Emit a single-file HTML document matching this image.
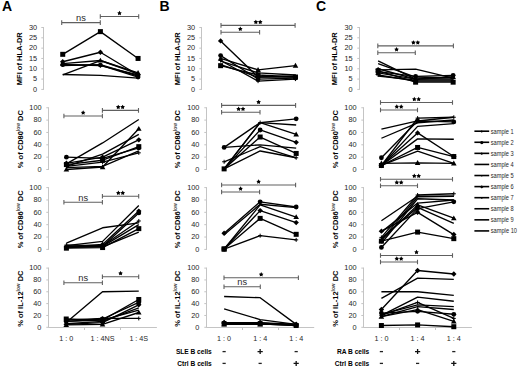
<!DOCTYPE html>
<html><head><meta charset="utf-8"><title>figure</title>
<style>
html,body{margin:0;padding:0;background:#fff;}
body{width:520px;height:369px;overflow:hidden;}
svg{display:block;font-family:"Liberation Sans", sans-serif;}
</style></head>
<body>
<svg width="520" height="369" viewBox="0 0 520 369">
<rect width="520" height="369" fill="#fff"/>
<path d="M43.50,27.00V89.90" stroke="#c4c4c4" stroke-width="1" fill="none"/>
<path d="M41.30,89.40H43.50" stroke="#c4c4c4" stroke-width="1"/>
<text x="37.20" y="91.60" font-size="7.35" text-anchor="end" fill="#262626">0</text>
<path d="M41.30,79.08H43.50" stroke="#c4c4c4" stroke-width="1"/>
<text x="37.20" y="81.28" font-size="7.35" text-anchor="end" fill="#262626">5</text>
<path d="M41.30,68.77H43.50" stroke="#c4c4c4" stroke-width="1"/>
<text x="37.20" y="70.97" font-size="7.35" text-anchor="end" fill="#262626">10</text>
<path d="M41.30,58.45H43.50" stroke="#c4c4c4" stroke-width="1"/>
<text x="37.20" y="60.65" font-size="7.35" text-anchor="end" fill="#262626">15</text>
<path d="M41.30,48.13H43.50" stroke="#c4c4c4" stroke-width="1"/>
<text x="37.20" y="50.33" font-size="7.35" text-anchor="end" fill="#262626">20</text>
<path d="M41.30,37.82H43.50" stroke="#c4c4c4" stroke-width="1"/>
<text x="37.20" y="40.02" font-size="7.35" text-anchor="end" fill="#262626">25</text>
<path d="M41.30,27.50H43.50" stroke="#c4c4c4" stroke-width="1"/>
<text x="37.20" y="29.70" font-size="7.35" text-anchor="end" fill="#262626">30</text>
<path d="M62.73,54.32 L100.40,31.63 L138.07,58.45" stroke="#000" stroke-width="1.35" fill="none" stroke-linejoin="round"/>
<rect x="60.23" y="51.82" width="5.00" height="5.00" fill="#000"/>
<rect x="97.90" y="29.13" width="5.00" height="5.00" fill="#000"/>
<rect x="135.57" y="55.95" width="5.00" height="5.00" fill="#000"/>
<path d="M62.73,61.75 L100.40,52.26 L138.07,74.96" stroke="#000" stroke-width="1.35" fill="none" stroke-linejoin="round"/>
<polygon points="62.73,59.05 65.43,61.75 62.73,64.45 60.03,61.75" fill="#000"/>
<polygon points="100.40,49.56 103.10,52.26 100.40,54.96 97.70,52.26" fill="#000"/>
<polygon points="138.07,72.26 140.77,74.96 138.07,77.66 135.37,74.96" fill="#000"/>
<path d="M62.73,63.61 L100.40,60.51 L138.07,72.89" stroke="#000" stroke-width="1.35" fill="none" stroke-linejoin="round"/>
<polygon points="62.73,60.81 65.53,65.71 59.93,65.71" fill="#000"/>
<polygon points="100.40,57.71 103.20,62.61 97.60,62.61" fill="#000"/>
<polygon points="138.07,70.09 140.87,74.99 135.27,74.99" fill="#000"/>
<path d="M62.73,64.64 L100.40,65.05 L138.07,77.02" stroke="#000" stroke-width="1.35" fill="none" stroke-linejoin="round"/>
<circle cx="62.73" cy="64.64" r="2.40" fill="#000"/>
<circle cx="100.40" cy="65.05" r="2.40" fill="#000"/>
<circle cx="138.07" cy="77.02" r="2.40" fill="#000"/>
<path d="M62.73,64.64 L100.40,65.67 L138.07,74.96" stroke="#000" stroke-width="1.35" fill="none" stroke-linejoin="round"/>
<path d="M60.73,64.64H64.73M62.73,62.64V66.64" stroke="#000" stroke-width="1"/>
<path d="M98.40,65.67H102.40M100.40,63.67V67.67" stroke="#000" stroke-width="1"/>
<path d="M136.07,74.96H140.07M138.07,72.96V76.96" stroke="#000" stroke-width="1"/>
<path d="M62.73,65.67 L100.40,64.64 L138.07,75.99" stroke="#000" stroke-width="1.35" fill="none" stroke-linejoin="round"/>



<path d="M62.73,74.96 L100.40,60.51 L138.07,73.93" stroke="#000" stroke-width="1.35" fill="none" stroke-linejoin="round"/>



<path d="M62.73,74.54 L100.40,75.37 L138.07,78.05" stroke="#000" stroke-width="1.35" fill="none" stroke-linejoin="round"/>



<path d="M61.70,22.60H100.30M61.70,20.30V24.90M100.30,20.30V24.90" stroke="#606060" stroke-width="1.1" fill="none"/><text x="81.00" y="21.20" font-size="9.3" text-anchor="middle" fill="#2a2a2a">ns</text>
<path d="M100.30,16.50H138.70M100.30,14.20V18.80M138.70,14.20V18.80" stroke="#606060" stroke-width="1.1" fill="none"/><polygon points="119.50,10.80 120.28,12.13 121.78,12.46 120.76,13.61 120.91,15.14 119.50,14.52 118.09,15.14 118.24,13.61 117.22,12.46 118.72,12.13" fill="#000"/>
<text transform="translate(22.00,58.70) rotate(-90)" font-size="7.5" font-weight="bold" text-anchor="middle" fill="#000">MFI of HLA-DR</text>
<path d="M48.50,107.25V170.00" stroke="#c4c4c4" stroke-width="1" fill="none"/>
<path d="M46.30,169.50H48.50" stroke="#c4c4c4" stroke-width="1"/>
<text x="41.60" y="171.70" font-size="7.35" text-anchor="end" fill="#262626">0</text>
<path d="M46.30,157.15H48.50" stroke="#c4c4c4" stroke-width="1"/>
<text x="41.60" y="159.35" font-size="7.35" text-anchor="end" fill="#262626">20</text>
<path d="M46.30,144.80H48.50" stroke="#c4c4c4" stroke-width="1"/>
<text x="41.60" y="147.00" font-size="7.35" text-anchor="end" fill="#262626">40</text>
<path d="M46.30,132.45H48.50" stroke="#c4c4c4" stroke-width="1"/>
<text x="41.60" y="134.65" font-size="7.35" text-anchor="end" fill="#262626">60</text>
<path d="M46.30,120.10H48.50" stroke="#c4c4c4" stroke-width="1"/>
<text x="41.60" y="122.30" font-size="7.35" text-anchor="end" fill="#262626">80</text>
<path d="M46.30,107.75H48.50" stroke="#c4c4c4" stroke-width="1"/>
<text x="41.60" y="109.95" font-size="7.35" text-anchor="end" fill="#262626">100</text>
<path d="M66.40,164.56 L102.60,160.24 L138.80,146.65" stroke="#000" stroke-width="1.35" fill="none" stroke-linejoin="round"/>
<rect x="63.90" y="162.06" width="5.00" height="5.00" fill="#000"/>
<rect x="100.10" y="157.74" width="5.00" height="5.00" fill="#000"/>
<rect x="136.30" y="144.15" width="5.00" height="5.00" fill="#000"/>
<path d="M66.40,157.15 L102.60,158.38 L138.80,147.89" stroke="#000" stroke-width="1.35" fill="none" stroke-linejoin="round"/>
<circle cx="66.40" cy="157.15" r="2.40" fill="#000"/>
<circle cx="102.60" cy="158.38" r="2.40" fill="#000"/>
<circle cx="138.80" cy="147.89" r="2.40" fill="#000"/>
<path d="M66.40,169.50 L102.60,167.03 L138.80,128.75" stroke="#000" stroke-width="1.35" fill="none" stroke-linejoin="round"/>
<polygon points="66.40,166.70 69.20,171.60 63.60,171.60" fill="#000"/>
<polygon points="102.60,164.23 105.40,169.13 99.80,169.13" fill="#000"/>
<polygon points="138.80,125.95 141.60,130.84 136.00,130.84" fill="#000"/>
<path d="M66.40,163.32 L102.60,157.15 L138.80,139.86" stroke="#000" stroke-width="1.35" fill="none" stroke-linejoin="round"/>
<polygon points="66.40,160.62 69.10,163.32 66.40,166.02 63.70,163.32" fill="#000"/>
<polygon points="102.60,154.45 105.30,157.15 102.60,159.85 99.90,157.15" fill="#000"/>
<polygon points="138.80,137.16 141.50,139.86 138.80,142.56 136.10,139.86" fill="#000"/>
<path d="M66.40,166.41 L102.60,162.09 L138.80,152.83" stroke="#000" stroke-width="1.35" fill="none" stroke-linejoin="round"/>
<path d="M64.40,166.41H68.40M66.40,164.41V168.41" stroke="#000" stroke-width="1"/>
<path d="M100.60,162.09H104.60M102.60,160.09V164.09" stroke="#000" stroke-width="1"/>
<path d="M136.80,152.83H140.80M138.80,150.83V154.83" stroke="#000" stroke-width="1"/>
<path d="M66.40,163.94 L102.60,142.95 L138.80,119.48" stroke="#000" stroke-width="1.35" fill="none" stroke-linejoin="round"/>



<path d="M66.40,166.41 L102.60,154.06 L138.80,134.30" stroke="#000" stroke-width="1.35" fill="none" stroke-linejoin="round"/>



<path d="M66.40,167.65 L102.60,166.41 L138.80,150.97" stroke="#000" stroke-width="1.35" fill="none" stroke-linejoin="round"/>



<path d="M63.90,116.00H102.40M63.90,113.70V118.30M102.40,113.70V118.30" stroke="#606060" stroke-width="1.1" fill="none"/><polygon points="83.15,110.30 83.93,111.63 85.43,111.96 84.41,113.11 84.56,114.64 83.15,114.02 81.74,114.64 81.89,113.11 80.87,111.96 82.37,111.63" fill="#000"/>
<path d="M102.40,110.40H138.50M102.40,108.10V112.70M138.50,108.10V112.70" stroke="#606060" stroke-width="1.1" fill="none"/><polygon points="118.25,104.70 119.03,106.03 120.53,106.36 119.51,107.51 119.66,109.04 118.25,108.42 116.84,109.04 116.99,107.51 115.97,106.36 117.47,106.03" fill="#000"/><polygon points="122.65,104.70 123.43,106.03 124.93,106.36 123.91,107.51 124.06,109.04 122.65,108.42 121.24,109.04 121.39,107.51 120.37,106.36 121.87,106.03" fill="#000"/>
<text transform="translate(22.60,139.20) rotate(-90)" font-size="7.5" font-weight="bold" text-anchor="middle" fill="#000">% of CD80<tspan font-size="4.8" dy="-3" fill="#444">low</tspan><tspan dy="3"> DC</tspan></text>
<path d="M48.50,187.10V249.90" stroke="#c4c4c4" stroke-width="1" fill="none"/>
<path d="M46.30,249.40H48.50" stroke="#c4c4c4" stroke-width="1"/>
<text x="41.60" y="251.60" font-size="7.35" text-anchor="end" fill="#262626">0</text>
<path d="M46.30,237.04H48.50" stroke="#c4c4c4" stroke-width="1"/>
<text x="41.60" y="239.24" font-size="7.35" text-anchor="end" fill="#262626">20</text>
<path d="M46.30,224.68H48.50" stroke="#c4c4c4" stroke-width="1"/>
<text x="41.60" y="226.88" font-size="7.35" text-anchor="end" fill="#262626">40</text>
<path d="M46.30,212.32H48.50" stroke="#c4c4c4" stroke-width="1"/>
<text x="41.60" y="214.52" font-size="7.35" text-anchor="end" fill="#262626">60</text>
<path d="M46.30,199.96H48.50" stroke="#c4c4c4" stroke-width="1"/>
<text x="41.60" y="202.16" font-size="7.35" text-anchor="end" fill="#262626">80</text>
<path d="M46.30,187.60H48.50" stroke="#c4c4c4" stroke-width="1"/>
<text x="41.60" y="189.80" font-size="7.35" text-anchor="end" fill="#262626">100</text>
<path d="M66.40,243.22 L102.60,227.77 L138.80,222.83" stroke="#000" stroke-width="1.35" fill="none" stroke-linejoin="round"/>



<path d="M66.40,245.69 L102.60,241.37 L138.80,205.52" stroke="#000" stroke-width="1.35" fill="none" stroke-linejoin="round"/>



<path d="M66.40,246.93 L102.60,244.46 L138.80,211.08" stroke="#000" stroke-width="1.35" fill="none" stroke-linejoin="round"/>
<polygon points="66.40,244.23 69.10,246.93 66.40,249.63 63.70,246.93" fill="#000"/>
<polygon points="102.60,241.76 105.30,244.46 102.60,247.16 99.90,244.46" fill="#000"/>
<polygon points="138.80,208.38 141.50,211.08 138.80,213.78 136.10,211.08" fill="#000"/>
<path d="M66.40,247.55 L102.60,246.31 L138.80,212.94" stroke="#000" stroke-width="1.35" fill="none" stroke-linejoin="round"/>
<circle cx="66.40" cy="247.55" r="2.40" fill="#000"/>
<circle cx="102.60" cy="246.31" r="2.40" fill="#000"/>
<circle cx="138.80" cy="212.94" r="2.40" fill="#000"/>
<path d="M66.40,245.07 L102.60,245.69 L138.80,220.97" stroke="#000" stroke-width="1.35" fill="none" stroke-linejoin="round"/>
<path d="M64.40,245.07H68.40M66.40,243.07V247.07" stroke="#000" stroke-width="1"/>
<path d="M100.60,245.69H104.60M102.60,243.69V247.69" stroke="#000" stroke-width="1"/>
<path d="M136.80,220.97H140.80M138.80,218.97V222.97" stroke="#000" stroke-width="1"/>
<path d="M66.40,248.16 L102.60,247.55 L138.80,228.64" stroke="#000" stroke-width="1.35" fill="none" stroke-linejoin="round"/>
<rect x="63.90" y="245.66" width="5.00" height="5.00" fill="#000"/>
<rect x="100.10" y="245.05" width="5.00" height="5.00" fill="#000"/>
<rect x="136.30" y="226.14" width="5.00" height="5.00" fill="#000"/>
<path d="M66.40,246.31 L102.60,246.31 L138.80,224.68" stroke="#000" stroke-width="1.35" fill="none" stroke-linejoin="round"/>



<path d="M66.40,246.93 L102.60,246.93 L138.80,232.10" stroke="#000" stroke-width="1.35" fill="none" stroke-linejoin="round"/>



<path d="M63.90,202.30H102.40M63.90,200.00V204.60M102.40,200.00V204.60" stroke="#606060" stroke-width="1.1" fill="none"/><text x="83.15" y="200.90" font-size="9.3" text-anchor="middle" fill="#2a2a2a">ns</text>
<path d="M102.40,196.30H138.70M102.40,194.00V198.60M138.70,194.00V198.60" stroke="#606060" stroke-width="1.1" fill="none"/><polygon points="118.35,190.60 119.13,191.93 120.63,192.26 119.61,193.41 119.76,194.94 118.35,194.32 116.94,194.94 117.09,193.41 116.07,192.26 117.57,191.93" fill="#000"/><polygon points="122.75,190.60 123.53,191.93 125.03,192.26 124.01,193.41 124.16,194.94 122.75,194.32 121.34,194.94 121.49,193.41 120.47,192.26 121.97,191.93" fill="#000"/>
<text transform="translate(22.60,219.30) rotate(-90)" font-size="7.5" font-weight="bold" text-anchor="middle" fill="#000">% of CD86<tspan font-size="4.8" dy="-3" fill="#444">low</tspan><tspan dy="3"> DC</tspan></text>
<path d="M48.50,267.60V327.80" stroke="#c4c4c4" stroke-width="1" fill="none"/>
<path d="M46.30,327.30H48.50" stroke="#c4c4c4" stroke-width="1"/>
<text x="41.40" y="329.50" font-size="7.35" text-anchor="end" fill="#262626">0</text>
<path d="M46.30,315.46H48.50" stroke="#c4c4c4" stroke-width="1"/>
<text x="41.40" y="317.66" font-size="7.35" text-anchor="end" fill="#262626">20</text>
<path d="M46.30,303.62H48.50" stroke="#c4c4c4" stroke-width="1"/>
<text x="41.40" y="305.82" font-size="7.35" text-anchor="end" fill="#262626">40</text>
<path d="M46.30,291.78H48.50" stroke="#c4c4c4" stroke-width="1"/>
<text x="41.40" y="293.98" font-size="7.35" text-anchor="end" fill="#262626">60</text>
<path d="M46.30,279.94H48.50" stroke="#c4c4c4" stroke-width="1"/>
<text x="41.40" y="282.14" font-size="7.35" text-anchor="end" fill="#262626">80</text>
<path d="M46.30,268.10H48.50" stroke="#c4c4c4" stroke-width="1"/>
<text x="41.40" y="270.30" font-size="7.35" text-anchor="end" fill="#262626">100</text>
<path d="M48.50,327.50H156.90" stroke="#c4c4c4" stroke-width="1"/>
<path d="M84.50,327.50V330.00" stroke="#c4c4c4" stroke-width="1"/>
<path d="M120.50,327.50V330.00" stroke="#c4c4c4" stroke-width="1"/>
<path d="M66.23,322.56 L102.50,291.78 L138.77,291.19" stroke="#000" stroke-width="1.35" fill="none" stroke-linejoin="round"/>



<path d="M66.23,319.01 L102.50,320.20 L138.77,299.48" stroke="#000" stroke-width="1.35" fill="none" stroke-linejoin="round"/>
<rect x="63.73" y="316.51" width="5.00" height="5.00" fill="#000"/>
<rect x="100.00" y="317.70" width="5.00" height="5.00" fill="#000"/>
<rect x="136.27" y="296.98" width="5.00" height="5.00" fill="#000"/>
<path d="M66.23,324.34 L102.50,322.56 L138.77,304.80" stroke="#000" stroke-width="1.35" fill="none" stroke-linejoin="round"/>
<polygon points="66.23,321.64 68.93,324.34 66.23,327.04 63.53,324.34" fill="#000"/>
<polygon points="102.50,319.86 105.20,322.56 102.50,325.26 99.80,322.56" fill="#000"/>
<polygon points="138.77,302.10 141.47,304.80 138.77,307.50 136.07,304.80" fill="#000"/>
<path d="M66.23,321.38 L102.50,319.01 L138.77,302.44" stroke="#000" stroke-width="1.35" fill="none" stroke-linejoin="round"/>
<circle cx="66.23" cy="321.38" r="2.40" fill="#000"/>
<circle cx="102.50" cy="319.01" r="2.40" fill="#000"/>
<circle cx="138.77" cy="302.44" r="2.40" fill="#000"/>
<path d="M66.23,324.93 L102.50,324.34 L138.77,312.50" stroke="#000" stroke-width="1.35" fill="none" stroke-linejoin="round"/>
<polygon points="66.23,322.13 69.03,327.03 63.43,327.03" fill="#000"/>
<polygon points="102.50,321.54 105.30,326.44 99.70,326.44" fill="#000"/>
<polygon points="138.77,309.70 141.57,314.60 135.97,314.60" fill="#000"/>
<path d="M66.23,320.20 L102.50,318.42 L138.77,318.42" stroke="#000" stroke-width="1.35" fill="none" stroke-linejoin="round"/>
<path d="M64.23,320.20H68.23M66.23,318.20V322.20" stroke="#000" stroke-width="1"/>
<path d="M100.50,318.42H104.50M102.50,316.42V320.42" stroke="#000" stroke-width="1"/>
<path d="M136.77,318.42H140.77M138.77,316.42V320.42" stroke="#000" stroke-width="1"/>
<path d="M66.23,323.75 L102.50,321.38 L138.77,307.76" stroke="#000" stroke-width="1.35" fill="none" stroke-linejoin="round"/>



<path d="M66.23,321.38 L102.50,320.20 L138.77,310.13" stroke="#000" stroke-width="1.35" fill="none" stroke-linejoin="round"/>



<path d="M63.90,282.80H102.40M63.90,280.50V285.10M102.40,280.50V285.10" stroke="#606060" stroke-width="1.1" fill="none"/><text x="83.15" y="281.40" font-size="9.3" text-anchor="middle" fill="#2a2a2a">ns</text>
<path d="M102.40,276.70H138.70M102.40,274.40V279.00M138.70,274.40V279.00" stroke="#606060" stroke-width="1.1" fill="none"/><polygon points="120.55,271.00 121.33,272.33 122.83,272.66 121.81,273.81 121.96,275.34 120.55,274.72 119.14,275.34 119.29,273.81 118.27,272.66 119.77,272.33" fill="#000"/>
<text transform="translate(22.60,298.70) rotate(-90)" font-size="7.5" font-weight="bold" text-anchor="middle" fill="#000">% of IL-12<tspan font-size="4.8" dy="-3" fill="#444">low</tspan><tspan dy="3"> DC</tspan></text>
<path d="M201.50,27.00V89.90" stroke="#c4c4c4" stroke-width="1" fill="none"/>
<path d="M199.30,89.40H201.50" stroke="#c4c4c4" stroke-width="1"/>
<text x="195.20" y="91.60" font-size="7.35" text-anchor="end" fill="#262626">0</text>
<path d="M199.30,79.08H201.50" stroke="#c4c4c4" stroke-width="1"/>
<text x="195.20" y="81.28" font-size="7.35" text-anchor="end" fill="#262626">5</text>
<path d="M199.30,68.77H201.50" stroke="#c4c4c4" stroke-width="1"/>
<text x="195.20" y="70.97" font-size="7.35" text-anchor="end" fill="#262626">10</text>
<path d="M199.30,58.45H201.50" stroke="#c4c4c4" stroke-width="1"/>
<text x="195.20" y="60.65" font-size="7.35" text-anchor="end" fill="#262626">15</text>
<path d="M199.30,48.13H201.50" stroke="#c4c4c4" stroke-width="1"/>
<text x="195.20" y="50.33" font-size="7.35" text-anchor="end" fill="#262626">20</text>
<path d="M199.30,37.82H201.50" stroke="#c4c4c4" stroke-width="1"/>
<text x="195.20" y="40.02" font-size="7.35" text-anchor="end" fill="#262626">25</text>
<path d="M199.30,27.50H201.50" stroke="#c4c4c4" stroke-width="1"/>
<text x="195.20" y="29.70" font-size="7.35" text-anchor="end" fill="#262626">30</text>
<path d="M220.62,40.91 L258.05,77.02 L295.48,77.02" stroke="#000" stroke-width="1.35" fill="none" stroke-linejoin="round"/>
<polygon points="220.62,38.21 223.32,40.91 220.62,43.61 217.92,40.91" fill="#000"/>
<polygon points="258.05,74.32 260.75,77.02 258.05,79.72 255.35,77.02" fill="#000"/>
<polygon points="295.48,74.32 298.18,77.02 295.48,79.72 292.78,77.02" fill="#000"/>
<path d="M220.62,55.56 L258.05,79.08 L295.48,78.05" stroke="#000" stroke-width="1.35" fill="none" stroke-linejoin="round"/>
<circle cx="220.62" cy="55.56" r="2.40" fill="#000"/>
<circle cx="258.05" cy="79.08" r="2.40" fill="#000"/>
<circle cx="295.48" cy="78.05" r="2.40" fill="#000"/>
<path d="M220.62,58.45 L258.05,69.80 L295.48,65.67" stroke="#000" stroke-width="1.35" fill="none" stroke-linejoin="round"/>
<polygon points="220.62,55.65 223.42,60.55 217.82,60.55" fill="#000"/>
<polygon points="258.05,67.00 260.85,71.90 255.25,71.90" fill="#000"/>
<polygon points="295.48,62.87 298.28,67.77 292.68,67.77" fill="#000"/>
<path d="M220.62,61.13 L258.05,72.89 L295.48,74.96" stroke="#000" stroke-width="1.35" fill="none" stroke-linejoin="round"/>



<path d="M220.62,65.67 L258.05,74.96 L295.48,77.02" stroke="#000" stroke-width="1.35" fill="none" stroke-linejoin="round"/>
<rect x="218.12" y="63.17" width="5.00" height="5.00" fill="#000"/>
<rect x="255.55" y="72.46" width="5.00" height="5.00" fill="#000"/>
<rect x="292.98" y="74.52" width="5.00" height="5.00" fill="#000"/>
<path d="M220.62,60.51 L258.05,81.15 L295.48,79.08" stroke="#000" stroke-width="1.35" fill="none" stroke-linejoin="round"/>
<path d="M218.62,60.51H222.62M220.62,58.51V62.51" stroke="#000" stroke-width="1"/>
<path d="M256.05,81.15H260.05M258.05,79.15V83.15" stroke="#000" stroke-width="1"/>
<path d="M293.48,79.08H297.48M295.48,77.08V81.08" stroke="#000" stroke-width="1"/>
<path d="M220.62,64.64 L258.05,77.02 L295.48,75.99" stroke="#000" stroke-width="1.35" fill="none" stroke-linejoin="round"/>



<path d="M221.00,25.40H295.10M221.00,23.10V27.70M295.10,23.10V27.70" stroke="#606060" stroke-width="1.1" fill="none"/><polygon points="255.85,19.70 256.63,21.03 258.13,21.36 257.11,22.51 257.26,24.04 255.85,23.42 254.44,24.04 254.59,22.51 253.57,21.36 255.07,21.03" fill="#000"/><polygon points="260.25,19.70 261.03,21.03 262.53,21.36 261.51,22.51 261.66,24.04 260.25,23.42 258.84,24.04 258.99,22.51 257.97,21.36 259.47,21.03" fill="#000"/>
<path d="M221.00,32.30H259.60M221.00,30.00V34.60M259.60,30.00V34.60" stroke="#606060" stroke-width="1.1" fill="none"/><polygon points="240.30,26.60 241.08,27.93 242.58,28.26 241.56,29.41 241.71,30.94 240.30,30.32 238.89,30.94 239.04,29.41 238.02,28.26 239.52,27.93" fill="#000"/>
<text transform="translate(179.50,58.70) rotate(-90)" font-size="7.5" font-weight="bold" text-anchor="middle" fill="#000">MFI of HLA-DR</text>
<path d="M206.50,107.25V170.00" stroke="#c4c4c4" stroke-width="1" fill="none"/>
<path d="M204.30,169.50H206.50" stroke="#c4c4c4" stroke-width="1"/>
<text x="199.40" y="171.70" font-size="7.35" text-anchor="end" fill="#262626">0</text>
<path d="M204.30,157.15H206.50" stroke="#c4c4c4" stroke-width="1"/>
<text x="199.40" y="159.35" font-size="7.35" text-anchor="end" fill="#262626">20</text>
<path d="M204.30,144.80H206.50" stroke="#c4c4c4" stroke-width="1"/>
<text x="199.40" y="147.00" font-size="7.35" text-anchor="end" fill="#262626">40</text>
<path d="M204.30,132.45H206.50" stroke="#c4c4c4" stroke-width="1"/>
<text x="199.40" y="134.65" font-size="7.35" text-anchor="end" fill="#262626">60</text>
<path d="M204.30,120.10H206.50" stroke="#c4c4c4" stroke-width="1"/>
<text x="199.40" y="122.30" font-size="7.35" text-anchor="end" fill="#262626">80</text>
<path d="M204.30,107.75H206.50" stroke="#c4c4c4" stroke-width="1"/>
<text x="199.40" y="109.95" font-size="7.35" text-anchor="end" fill="#262626">100</text>
<path d="M224.12,147.39 L260.15,122.57 L296.18,125.04" stroke="#000" stroke-width="1.35" fill="none" stroke-linejoin="round"/>
<circle cx="224.12" cy="147.39" r="2.40" fill="#000"/>


<path d="M224.12,147.39 L260.15,144.80 L296.18,148.20" stroke="#000" stroke-width="1.35" fill="none" stroke-linejoin="round"/>



<path d="M224.12,168.88 L260.15,122.57 L296.18,118.87" stroke="#000" stroke-width="1.35" fill="none" stroke-linejoin="round"/>
<rect x="221.62" y="166.38" width="5.00" height="5.00" fill="#000"/>

<circle cx="296.18" cy="118.87" r="2.40" fill="#000"/>
<path d="M224.12,168.88 L260.15,129.98 L296.18,142.33" stroke="#000" stroke-width="1.35" fill="none" stroke-linejoin="round"/>

<circle cx="260.15" cy="129.98" r="2.40" fill="#000"/>
<polygon points="296.18,139.63 298.88,142.33 296.18,145.03 293.48,142.33" fill="#000"/>
<path d="M224.12,168.88 L260.15,122.57 L296.18,134.30" stroke="#000" stroke-width="1.35" fill="none" stroke-linejoin="round"/>

<path d="M258.15,122.57H262.15M260.15,120.57V124.57" stroke="#000" stroke-width="1"/>
<polygon points="296.18,131.50 298.98,136.40 293.38,136.40" fill="#000"/>
<path d="M224.12,168.88 L260.15,137.02 L296.18,153.44" stroke="#000" stroke-width="1.35" fill="none" stroke-linejoin="round"/>

<rect x="257.65" y="134.52" width="5.00" height="5.00" fill="#000"/>
<rect x="293.68" y="150.94" width="5.00" height="5.00" fill="#000"/>
<path d="M224.12,161.78 L260.15,146.65 L296.18,157.77" stroke="#000" stroke-width="1.35" fill="none" stroke-linejoin="round"/>
<path d="M222.12,161.78H226.12M224.12,159.78V163.78" stroke="#000" stroke-width="1"/>

<path d="M294.18,157.77H298.18M296.18,155.77V159.77" stroke="#000" stroke-width="1"/>
<path d="M224.12,168.88 L260.15,150.97 L296.18,157.77" stroke="#000" stroke-width="1.35" fill="none" stroke-linejoin="round"/>



<path d="M221.60,105.40H295.60M221.60,103.10V107.70M295.60,103.10V107.70" stroke="#606060" stroke-width="1.1" fill="none"/><polygon points="258.60,99.70 259.38,101.03 260.88,101.36 259.86,102.51 260.01,104.04 258.60,103.42 257.19,104.04 257.34,102.51 256.32,101.36 257.82,101.03" fill="#000"/>
<path d="M221.60,112.30H260.00M221.60,110.00V114.60M260.00,110.00V114.60" stroke="#606060" stroke-width="1.1" fill="none"/><polygon points="238.60,106.60 239.38,107.93 240.88,108.26 239.86,109.41 240.01,110.94 238.60,110.32 237.19,110.94 237.34,109.41 236.32,108.26 237.82,107.93" fill="#000"/><polygon points="243.00,106.60 243.78,107.93 245.28,108.26 244.26,109.41 244.41,110.94 243.00,110.32 241.59,110.94 241.74,109.41 240.72,108.26 242.22,107.93" fill="#000"/>
<text transform="translate(180.10,139.20) rotate(-90)" font-size="7.5" font-weight="bold" text-anchor="middle" fill="#000">% of CD80<tspan font-size="4.8" dy="-3" fill="#444">low</tspan><tspan dy="3"> DC</tspan></text>
<path d="M206.50,187.10V249.90" stroke="#c4c4c4" stroke-width="1" fill="none"/>
<path d="M204.30,249.40H206.50" stroke="#c4c4c4" stroke-width="1"/>
<text x="199.40" y="251.60" font-size="7.35" text-anchor="end" fill="#262626">0</text>
<path d="M204.30,237.04H206.50" stroke="#c4c4c4" stroke-width="1"/>
<text x="199.40" y="239.24" font-size="7.35" text-anchor="end" fill="#262626">20</text>
<path d="M204.30,224.68H206.50" stroke="#c4c4c4" stroke-width="1"/>
<text x="199.40" y="226.88" font-size="7.35" text-anchor="end" fill="#262626">40</text>
<path d="M204.30,212.32H206.50" stroke="#c4c4c4" stroke-width="1"/>
<text x="199.40" y="214.52" font-size="7.35" text-anchor="end" fill="#262626">60</text>
<path d="M204.30,199.96H206.50" stroke="#c4c4c4" stroke-width="1"/>
<text x="199.40" y="202.16" font-size="7.35" text-anchor="end" fill="#262626">80</text>
<path d="M204.30,187.60H206.50" stroke="#c4c4c4" stroke-width="1"/>
<text x="199.40" y="189.80" font-size="7.35" text-anchor="end" fill="#262626">100</text>
<path d="M224.12,233.21 L260.15,201.81 L296.18,207.01" stroke="#000" stroke-width="1.35" fill="none" stroke-linejoin="round"/>
<polygon points="224.12,230.51 226.82,233.21 224.12,235.91 221.42,233.21" fill="#000"/>
<circle cx="260.15" cy="201.81" r="2.40" fill="#000"/>
<circle cx="296.18" cy="207.01" r="2.40" fill="#000"/>
<path d="M224.12,234.69 L260.15,204.29 L296.18,207.69" stroke="#000" stroke-width="1.35" fill="none" stroke-linejoin="round"/>



<path d="M224.12,249.03 L260.15,204.90 L296.18,217.02" stroke="#000" stroke-width="1.35" fill="none" stroke-linejoin="round"/>
<rect x="221.62" y="246.53" width="5.00" height="5.00" fill="#000"/>

<polygon points="296.18,214.22 298.98,219.12 293.38,219.12" fill="#000"/>
<path d="M224.12,249.03 L260.15,210.59 L296.18,222.58" stroke="#000" stroke-width="1.35" fill="none" stroke-linejoin="round"/>
<polygon points="224.12,246.33 226.82,249.03 224.12,251.73 221.42,249.03" fill="#000"/>
<polygon points="260.15,207.89 262.85,210.59 260.15,213.29 257.45,210.59" fill="#000"/>
<polygon points="296.18,219.88 298.88,222.58 296.18,225.28 293.48,222.58" fill="#000"/>
<path d="M224.12,249.03 L260.15,218.38 L296.18,234.32" stroke="#000" stroke-width="1.35" fill="none" stroke-linejoin="round"/>
<rect x="221.62" y="246.53" width="5.00" height="5.00" fill="#000"/>
<rect x="257.65" y="215.88" width="5.00" height="5.00" fill="#000"/>
<rect x="293.68" y="231.82" width="5.00" height="5.00" fill="#000"/>
<path d="M224.12,249.03 L260.15,235.68 L296.18,239.88" stroke="#000" stroke-width="1.35" fill="none" stroke-linejoin="round"/>
<path d="M222.12,249.03H226.12M224.12,247.03V251.03" stroke="#000" stroke-width="1"/>
<path d="M258.15,235.68H262.15M260.15,233.68V237.68" stroke="#000" stroke-width="1"/>
<path d="M294.18,239.88H298.18M296.18,237.88V241.88" stroke="#000" stroke-width="1"/>
<path d="M221.60,185.00H295.60M221.60,182.70V187.30M295.60,182.70V187.30" stroke="#606060" stroke-width="1.1" fill="none"/><polygon points="258.60,179.30 259.38,180.63 260.88,180.96 259.86,182.11 260.01,183.64 258.60,183.02 257.19,183.64 257.34,182.11 256.32,180.96 257.82,180.63" fill="#000"/>
<path d="M221.60,192.00H259.60M221.60,189.70V194.30M259.60,189.70V194.30" stroke="#606060" stroke-width="1.1" fill="none"/><polygon points="240.60,186.30 241.38,187.63 242.88,187.96 241.86,189.11 242.01,190.64 240.60,190.02 239.19,190.64 239.34,189.11 238.32,187.96 239.82,187.63" fill="#000"/>
<text transform="translate(180.10,219.30) rotate(-90)" font-size="7.5" font-weight="bold" text-anchor="middle" fill="#000">% of CD86<tspan font-size="4.8" dy="-3" fill="#444">low</tspan><tspan dy="3"> DC</tspan></text>
<path d="M206.50,267.60V327.80" stroke="#c4c4c4" stroke-width="1" fill="none"/>
<path d="M204.30,327.30H206.50" stroke="#c4c4c4" stroke-width="1"/>
<text x="199.40" y="329.50" font-size="7.35" text-anchor="end" fill="#262626">0</text>
<path d="M204.30,315.46H206.50" stroke="#c4c4c4" stroke-width="1"/>
<text x="199.40" y="317.66" font-size="7.35" text-anchor="end" fill="#262626">20</text>
<path d="M204.30,303.62H206.50" stroke="#c4c4c4" stroke-width="1"/>
<text x="199.40" y="305.82" font-size="7.35" text-anchor="end" fill="#262626">40</text>
<path d="M204.30,291.78H206.50" stroke="#c4c4c4" stroke-width="1"/>
<text x="199.40" y="293.98" font-size="7.35" text-anchor="end" fill="#262626">60</text>
<path d="M204.30,279.94H206.50" stroke="#c4c4c4" stroke-width="1"/>
<text x="199.40" y="282.14" font-size="7.35" text-anchor="end" fill="#262626">80</text>
<path d="M204.30,268.10H206.50" stroke="#c4c4c4" stroke-width="1"/>
<text x="199.40" y="270.30" font-size="7.35" text-anchor="end" fill="#262626">100</text>
<path d="M206.50,327.50H314.20" stroke="#c4c4c4" stroke-width="1"/>
<path d="M242.50,327.50V330.00" stroke="#c4c4c4" stroke-width="1"/>
<path d="M278.50,327.50V330.00" stroke="#c4c4c4" stroke-width="1"/>
<path d="M224.12,296.52 L260.15,297.70 L296.18,324.34" stroke="#000" stroke-width="1.35" fill="none" stroke-linejoin="round"/>



<path d="M224.12,308.95 L260.15,319.60 L296.18,324.34" stroke="#000" stroke-width="1.35" fill="none" stroke-linejoin="round"/>



<path d="M224.12,323.75 L260.15,323.75 L296.18,325.52" stroke="#000" stroke-width="1.35" fill="none" stroke-linejoin="round"/>
<rect x="221.62" y="321.25" width="5.00" height="5.00" fill="#000"/>
<rect x="257.65" y="321.25" width="5.00" height="5.00" fill="#000"/>
<rect x="293.68" y="323.02" width="5.00" height="5.00" fill="#000"/>
<path d="M224.12,323.16 L260.15,323.16 L296.18,324.93" stroke="#000" stroke-width="1.35" fill="none" stroke-linejoin="round"/>
<circle cx="224.12" cy="323.16" r="2.40" fill="#000"/>
<circle cx="260.15" cy="323.16" r="2.40" fill="#000"/>
<circle cx="296.18" cy="324.93" r="2.40" fill="#000"/>
<path d="M224.12,322.56 L260.15,322.56 L296.18,324.34" stroke="#000" stroke-width="1.35" fill="none" stroke-linejoin="round"/>
<polygon points="224.12,319.86 226.82,322.56 224.12,325.26 221.42,322.56" fill="#000"/>
<polygon points="260.15,319.86 262.85,322.56 260.15,325.26 257.45,322.56" fill="#000"/>
<polygon points="296.18,321.64 298.88,324.34 296.18,327.04 293.48,324.34" fill="#000"/>
<path d="M224.12,324.34 L260.15,324.34 L296.18,324.34" stroke="#000" stroke-width="1.35" fill="none" stroke-linejoin="round"/>
<polygon points="224.12,321.54 226.92,326.44 221.32,326.44" fill="#000"/>
<polygon points="260.15,321.54 262.95,326.44 257.35,326.44" fill="#000"/>
<polygon points="296.18,321.54 298.98,326.44 293.38,326.44" fill="#000"/>
<path d="M224.12,323.75 L260.15,323.16 L296.18,324.93" stroke="#000" stroke-width="1.35" fill="none" stroke-linejoin="round"/>
<path d="M222.12,323.75H226.12M224.12,321.75V325.75" stroke="#000" stroke-width="1"/>
<path d="M258.15,323.16H262.15M260.15,321.16V325.16" stroke="#000" stroke-width="1"/>
<path d="M294.18,324.93H298.18M296.18,322.93V326.93" stroke="#000" stroke-width="1"/>
<path d="M224.12,324.34 L260.15,323.75 L296.18,325.52" stroke="#000" stroke-width="1.35" fill="none" stroke-linejoin="round"/>



<path d="M224.00,277.80H298.40M224.00,275.50V280.10M298.40,275.50V280.10" stroke="#606060" stroke-width="1.1" fill="none"/><polygon points="261.20,272.10 261.98,273.43 263.48,273.76 262.46,274.91 262.61,276.44 261.20,275.82 259.79,276.44 259.94,274.91 258.92,273.76 260.42,273.43" fill="#000"/>
<path d="M224.00,286.80H260.30M224.00,284.50V289.10M260.30,284.50V289.10" stroke="#606060" stroke-width="1.1" fill="none"/><text x="242.15" y="285.40" font-size="9.3" text-anchor="middle" fill="#2a2a2a">ns</text>
<text transform="translate(180.10,298.70) rotate(-90)" font-size="7.5" font-weight="bold" text-anchor="middle" fill="#000">% of IL-12<tspan font-size="4.8" dy="-3" fill="#444">low</tspan><tspan dy="3"> DC</tspan></text>
<path d="M359.50,27.00V89.90" stroke="#c4c4c4" stroke-width="1" fill="none"/>
<path d="M357.30,89.40H359.50" stroke="#c4c4c4" stroke-width="1"/>
<text x="352.65" y="91.60" font-size="7.35" text-anchor="end" fill="#262626">0</text>
<path d="M357.30,79.08H359.50" stroke="#c4c4c4" stroke-width="1"/>
<text x="352.65" y="81.28" font-size="7.35" text-anchor="end" fill="#262626">5</text>
<path d="M357.30,68.77H359.50" stroke="#c4c4c4" stroke-width="1"/>
<text x="352.65" y="70.97" font-size="7.35" text-anchor="end" fill="#262626">10</text>
<path d="M357.30,58.45H359.50" stroke="#c4c4c4" stroke-width="1"/>
<text x="352.65" y="60.65" font-size="7.35" text-anchor="end" fill="#262626">15</text>
<path d="M357.30,48.13H359.50" stroke="#c4c4c4" stroke-width="1"/>
<text x="352.65" y="50.33" font-size="7.35" text-anchor="end" fill="#262626">20</text>
<path d="M357.30,37.82H359.50" stroke="#c4c4c4" stroke-width="1"/>
<text x="352.65" y="40.02" font-size="7.35" text-anchor="end" fill="#262626">25</text>
<path d="M357.30,27.50H359.50" stroke="#c4c4c4" stroke-width="1"/>
<text x="352.65" y="29.70" font-size="7.35" text-anchor="end" fill="#262626">30</text>
<path d="M378.11,60.93 L415.62,79.08 L453.14,79.08" stroke="#000" stroke-width="1.35" fill="none" stroke-linejoin="round"/>



<path d="M378.11,63.61 L415.62,77.02 L453.14,78.05" stroke="#000" stroke-width="1.35" fill="none" stroke-linejoin="round"/>



<path d="M378.11,71.66 L415.62,76.40 L453.14,75.37" stroke="#000" stroke-width="1.35" fill="none" stroke-linejoin="round"/>
<circle cx="378.11" cy="71.66" r="2.40" fill="#000"/>
<circle cx="415.62" cy="76.40" r="2.40" fill="#000"/>
<circle cx="453.14" cy="75.37" r="2.40" fill="#000"/>
<path d="M378.11,69.80 L415.62,69.18 L453.14,78.05" stroke="#000" stroke-width="1.35" fill="none" stroke-linejoin="round"/>
<polygon points="378.11,67.10 380.81,69.80 378.11,72.50 375.41,69.80" fill="#000"/>


<path d="M378.11,70.83 L415.62,82.18 L453.14,82.18" stroke="#000" stroke-width="1.35" fill="none" stroke-linejoin="round"/>
<rect x="375.61" y="68.33" width="5.00" height="5.00" fill="#000"/>
<rect x="413.12" y="79.68" width="5.00" height="5.00" fill="#000"/>
<rect x="450.64" y="79.68" width="5.00" height="5.00" fill="#000"/>
<path d="M378.11,72.89 L415.62,79.08 L453.14,77.02" stroke="#000" stroke-width="1.35" fill="none" stroke-linejoin="round"/>
<polygon points="378.11,70.09 380.91,74.99 375.31,74.99" fill="#000"/>
<polygon points="415.62,76.28 418.43,81.18 412.82,81.18" fill="#000"/>
<polygon points="453.14,74.22 455.94,79.12 450.34,79.12" fill="#000"/>
<path d="M378.11,74.96 L415.62,81.15 L453.14,81.15" stroke="#000" stroke-width="1.35" fill="none" stroke-linejoin="round"/>
<path d="M376.11,74.96H380.11M378.11,72.96V76.96" stroke="#000" stroke-width="1"/>
<path d="M413.62,81.15H417.62M415.62,79.15V83.15" stroke="#000" stroke-width="1"/>
<path d="M451.14,81.15H455.14M453.14,79.15V83.15" stroke="#000" stroke-width="1"/>
<path d="M378.11,75.99 L415.62,80.12 L453.14,80.12" stroke="#000" stroke-width="1.35" fill="none" stroke-linejoin="round"/>



<path d="M378.11,68.77 L415.62,79.08 L453.14,77.02" stroke="#000" stroke-width="1.35" fill="none" stroke-linejoin="round"/>



<path d="M377.80,45.90H453.40M377.80,43.60V48.20M453.40,43.60V48.20" stroke="#606060" stroke-width="1.1" fill="none"/><polygon points="413.40,40.20 414.18,41.53 415.68,41.86 414.66,43.01 414.81,44.54 413.40,43.92 411.99,44.54 412.14,43.01 411.12,41.86 412.62,41.53" fill="#000"/><polygon points="417.80,40.20 418.58,41.53 420.08,41.86 419.06,43.01 419.21,44.54 417.80,43.92 416.39,44.54 416.54,43.01 415.52,41.86 417.02,41.53" fill="#000"/>
<path d="M377.80,52.80H415.30M377.80,50.50V55.10M415.30,50.50V55.10" stroke="#606060" stroke-width="1.1" fill="none"/><polygon points="396.55,47.10 397.33,48.43 398.83,48.76 397.81,49.91 397.96,51.44 396.55,50.82 395.14,51.44 395.29,49.91 394.27,48.76 395.77,48.43" fill="#000"/>
<text transform="translate(337.00,58.70) rotate(-90)" font-size="7.5" font-weight="bold" text-anchor="middle" fill="#000">MFI of HLA-DR</text>
<path d="M363.50,107.25V170.00" stroke="#c4c4c4" stroke-width="1" fill="none"/>
<path d="M361.30,169.50H363.50" stroke="#c4c4c4" stroke-width="1"/>
<text x="356.60" y="171.70" font-size="7.35" text-anchor="end" fill="#262626">0</text>
<path d="M361.30,157.15H363.50" stroke="#c4c4c4" stroke-width="1"/>
<text x="356.60" y="159.35" font-size="7.35" text-anchor="end" fill="#262626">20</text>
<path d="M361.30,144.80H363.50" stroke="#c4c4c4" stroke-width="1"/>
<text x="356.60" y="147.00" font-size="7.35" text-anchor="end" fill="#262626">40</text>
<path d="M361.30,132.45H363.50" stroke="#c4c4c4" stroke-width="1"/>
<text x="356.60" y="134.65" font-size="7.35" text-anchor="end" fill="#262626">60</text>
<path d="M361.30,120.10H363.50" stroke="#c4c4c4" stroke-width="1"/>
<text x="356.60" y="122.30" font-size="7.35" text-anchor="end" fill="#262626">80</text>
<path d="M361.30,107.75H363.50" stroke="#c4c4c4" stroke-width="1"/>
<text x="356.60" y="109.95" font-size="7.35" text-anchor="end" fill="#262626">100</text>
<path d="M381.40,129.18 L417.60,120.96 L453.80,117.26" stroke="#000" stroke-width="1.35" fill="none" stroke-linejoin="round"/>



<path d="M381.40,138.25 L417.60,122.76 L453.80,119.98" stroke="#000" stroke-width="1.35" fill="none" stroke-linejoin="round"/>



<path d="M381.40,157.77 L417.60,120.96 L453.80,121.89" stroke="#000" stroke-width="1.35" fill="none" stroke-linejoin="round"/>
<circle cx="381.40" cy="157.77" r="2.40" fill="#000"/>
<circle cx="417.60" cy="120.96" r="2.40" fill="#000"/>
<circle cx="453.80" cy="121.89" r="2.40" fill="#000"/>
<path d="M381.40,165.49 L417.60,118.12 L453.80,117.26" stroke="#000" stroke-width="1.35" fill="none" stroke-linejoin="round"/>
<path d="M379.40,165.49H383.40M381.40,163.49V167.49" stroke="#000" stroke-width="1"/>
<path d="M415.60,118.12H419.60M417.60,116.12V120.12" stroke="#000" stroke-width="1"/>
<path d="M451.80,117.26H455.80M453.80,115.26V119.26" stroke="#000" stroke-width="1"/>
<path d="M381.40,165.49 L417.60,126.40 L453.80,123.68" stroke="#000" stroke-width="1.35" fill="none" stroke-linejoin="round"/>



<path d="M381.40,165.49 L417.60,132.88 L453.80,156.53" stroke="#000" stroke-width="1.35" fill="none" stroke-linejoin="round"/>
<polygon points="381.40,162.79 384.10,165.49 381.40,168.19 378.70,165.49" fill="#000"/>
<polygon points="417.60,130.18 420.30,132.88 417.60,135.58 414.90,132.88" fill="#000"/>
<polygon points="453.80,153.83 456.50,156.53 453.80,159.23 451.10,156.53" fill="#000"/>
<path d="M381.40,165.49 L417.60,147.46 L453.80,156.53" stroke="#000" stroke-width="1.35" fill="none" stroke-linejoin="round"/>
<rect x="378.90" y="162.99" width="5.00" height="5.00" fill="#000"/>
<rect x="415.10" y="144.96" width="5.00" height="5.00" fill="#000"/>
<rect x="451.30" y="154.03" width="5.00" height="5.00" fill="#000"/>
<path d="M381.40,165.49 L417.60,151.04 L453.80,163.32" stroke="#000" stroke-width="1.35" fill="none" stroke-linejoin="round"/>



<path d="M381.40,163.32 L417.60,162.89 L453.80,163.32" stroke="#000" stroke-width="1.35" fill="none" stroke-linejoin="round"/>
<polygon points="381.40,160.52 384.20,165.42 378.60,165.42" fill="#000"/>
<polygon points="417.60,160.09 420.40,164.99 414.80,164.99" fill="#000"/>
<polygon points="453.80,160.52 456.60,165.42 451.00,165.42" fill="#000"/>
<path d="M381.40,165.49 L417.60,138.87 L453.80,139.24" stroke="#000" stroke-width="1.35" fill="none" stroke-linejoin="round"/>



<path d="M380.50,102.50H452.50M380.50,100.20V104.80M452.50,100.20V104.80" stroke="#606060" stroke-width="1.1" fill="none"/><polygon points="414.30,96.80 415.08,98.13 416.58,98.46 415.56,99.61 415.71,101.14 414.30,100.52 412.89,101.14 413.04,99.61 412.02,98.46 413.52,98.13" fill="#000"/><polygon points="418.70,96.80 419.48,98.13 420.98,98.46 419.96,99.61 420.11,101.14 418.70,100.52 417.29,101.14 417.44,99.61 416.42,98.46 417.92,98.13" fill="#000"/>
<path d="M380.50,110.00H417.50M380.50,107.70V112.30M417.50,107.70V112.30" stroke="#606060" stroke-width="1.1" fill="none"/><polygon points="396.80,104.30 397.58,105.63 399.08,105.96 398.06,107.11 398.21,108.64 396.80,108.02 395.39,108.64 395.54,107.11 394.52,105.96 396.02,105.63" fill="#000"/><polygon points="401.20,104.30 401.98,105.63 403.48,105.96 402.46,107.11 402.61,108.64 401.20,108.02 399.79,108.64 399.94,107.11 398.92,105.96 400.42,105.63" fill="#000"/>
<text transform="translate(337.60,139.20) rotate(-90)" font-size="7.5" font-weight="bold" text-anchor="middle" fill="#000">% of CD80<tspan font-size="4.8" dy="-3" fill="#444">low</tspan><tspan dy="3"> DC</tspan></text>
<path d="M363.50,187.10V249.90" stroke="#c4c4c4" stroke-width="1" fill="none"/>
<path d="M361.30,249.40H363.50" stroke="#c4c4c4" stroke-width="1"/>
<text x="356.60" y="251.60" font-size="7.35" text-anchor="end" fill="#262626">0</text>
<path d="M361.30,237.04H363.50" stroke="#c4c4c4" stroke-width="1"/>
<text x="356.60" y="239.24" font-size="7.35" text-anchor="end" fill="#262626">20</text>
<path d="M361.30,224.68H363.50" stroke="#c4c4c4" stroke-width="1"/>
<text x="356.60" y="226.88" font-size="7.35" text-anchor="end" fill="#262626">40</text>
<path d="M361.30,212.32H363.50" stroke="#c4c4c4" stroke-width="1"/>
<text x="356.60" y="214.52" font-size="7.35" text-anchor="end" fill="#262626">60</text>
<path d="M361.30,199.96H363.50" stroke="#c4c4c4" stroke-width="1"/>
<text x="356.60" y="202.16" font-size="7.35" text-anchor="end" fill="#262626">80</text>
<path d="M361.30,187.60H363.50" stroke="#c4c4c4" stroke-width="1"/>
<text x="356.60" y="189.80" font-size="7.35" text-anchor="end" fill="#262626">100</text>
<path d="M381.40,220.72 L417.60,196.25 L453.80,196.25" stroke="#000" stroke-width="1.35" fill="none" stroke-linejoin="round"/>



<path d="M381.40,231.17 L417.60,212.32 L453.80,234.57" stroke="#000" stroke-width="1.35" fill="none" stroke-linejoin="round"/>
<polygon points="381.40,228.47 384.10,231.17 381.40,233.87 378.70,231.17" fill="#000"/>
<polygon points="417.60,209.62 420.30,212.32 417.60,215.02 414.90,212.32" fill="#000"/>
<polygon points="453.80,231.87 456.50,234.57 453.80,237.27 451.10,234.57" fill="#000"/>
<path d="M381.40,247.42 L417.60,208.61 L453.80,201.81" stroke="#000" stroke-width="1.35" fill="none" stroke-linejoin="round"/>
<circle cx="381.40" cy="247.42" r="2.40" fill="#000"/>
<circle cx="417.60" cy="208.61" r="2.40" fill="#000"/>
<circle cx="453.80" cy="201.81" r="2.40" fill="#000"/>
<path d="M381.40,241.18 L417.60,232.10 L453.80,238.65" stroke="#000" stroke-width="1.35" fill="none" stroke-linejoin="round"/>
<rect x="378.90" y="238.68" width="5.00" height="5.00" fill="#000"/>
<rect x="415.10" y="229.60" width="5.00" height="5.00" fill="#000"/>
<rect x="451.30" y="236.15" width="5.00" height="5.00" fill="#000"/>
<path d="M381.40,240.13 L417.60,204.90 L453.80,218.19" stroke="#000" stroke-width="1.35" fill="none" stroke-linejoin="round"/>
<polygon points="381.40,237.33 384.20,242.23 378.60,242.23" fill="#000"/>
<polygon points="417.60,202.10 420.40,207.00 414.80,207.00" fill="#000"/>
<polygon points="453.80,215.39 456.60,220.29 451.00,220.29" fill="#000"/>
<path d="M381.40,237.41 L417.60,195.02 L453.80,193.78" stroke="#000" stroke-width="1.35" fill="none" stroke-linejoin="round"/>
<path d="M379.40,237.41H383.40M381.40,235.41V239.41" stroke="#000" stroke-width="1"/>
<path d="M415.60,195.02H419.60M417.60,193.02V197.02" stroke="#000" stroke-width="1"/>
<path d="M451.80,193.78H455.80M453.80,191.78V195.78" stroke="#000" stroke-width="1"/>
<path d="M381.40,240.13 L417.60,196.87 L453.80,196.25" stroke="#000" stroke-width="1.35" fill="none" stroke-linejoin="round"/>



<path d="M381.40,243.22 L417.60,198.72 L453.80,199.96" stroke="#000" stroke-width="1.35" fill="none" stroke-linejoin="round"/>



<path d="M381.40,238.28 L417.60,207.38 L453.80,223.44" stroke="#000" stroke-width="1.35" fill="none" stroke-linejoin="round"/>



<path d="M381.40,232.10 L417.60,203.05 L453.80,199.96" stroke="#000" stroke-width="1.35" fill="none" stroke-linejoin="round"/>



<path d="M380.50,179.30H452.50M380.50,177.00V181.60M452.50,177.00V181.60" stroke="#606060" stroke-width="1.1" fill="none"/><polygon points="414.30,173.60 415.08,174.93 416.58,175.26 415.56,176.41 415.71,177.94 414.30,177.32 412.89,177.94 413.04,176.41 412.02,175.26 413.52,174.93" fill="#000"/><polygon points="418.70,173.60 419.48,174.93 420.98,175.26 419.96,176.41 420.11,177.94 418.70,177.32 417.29,177.94 417.44,176.41 416.42,175.26 417.92,174.93" fill="#000"/>
<path d="M380.50,185.80H417.50M380.50,183.50V188.10M417.50,183.50V188.10" stroke="#606060" stroke-width="1.1" fill="none"/><polygon points="396.80,180.10 397.58,181.43 399.08,181.76 398.06,182.91 398.21,184.44 396.80,183.82 395.39,184.44 395.54,182.91 394.52,181.76 396.02,181.43" fill="#000"/><polygon points="401.20,180.10 401.98,181.43 403.48,181.76 402.46,182.91 402.61,184.44 401.20,183.82 399.79,184.44 399.94,182.91 398.92,181.76 400.42,181.43" fill="#000"/>
<text transform="translate(337.60,219.30) rotate(-90)" font-size="7.5" font-weight="bold" text-anchor="middle" fill="#000">% of CD86<tspan font-size="4.8" dy="-3" fill="#444">low</tspan><tspan dy="3"> DC</tspan></text>
<path d="M363.50,267.60V327.80" stroke="#c4c4c4" stroke-width="1" fill="none"/>
<path d="M361.30,327.30H363.50" stroke="#c4c4c4" stroke-width="1"/>
<text x="356.60" y="329.50" font-size="7.35" text-anchor="end" fill="#262626">0</text>
<path d="M361.30,315.46H363.50" stroke="#c4c4c4" stroke-width="1"/>
<text x="356.60" y="317.66" font-size="7.35" text-anchor="end" fill="#262626">20</text>
<path d="M361.30,303.62H363.50" stroke="#c4c4c4" stroke-width="1"/>
<text x="356.60" y="305.82" font-size="7.35" text-anchor="end" fill="#262626">40</text>
<path d="M361.30,291.78H363.50" stroke="#c4c4c4" stroke-width="1"/>
<text x="356.60" y="293.98" font-size="7.35" text-anchor="end" fill="#262626">60</text>
<path d="M361.30,279.94H363.50" stroke="#c4c4c4" stroke-width="1"/>
<text x="356.60" y="282.14" font-size="7.35" text-anchor="end" fill="#262626">80</text>
<path d="M361.30,268.10H363.50" stroke="#c4c4c4" stroke-width="1"/>
<text x="356.60" y="270.30" font-size="7.35" text-anchor="end" fill="#262626">100</text>
<path d="M363.50,327.50H471.90" stroke="#c4c4c4" stroke-width="1"/>
<path d="M399.50,327.50V330.00" stroke="#c4c4c4" stroke-width="1"/>
<path d="M435.50,327.50V330.00" stroke="#c4c4c4" stroke-width="1"/>
<path d="M381.40,291.78 L417.60,291.78 L453.80,295.33" stroke="#000" stroke-width="1.35" fill="none" stroke-linejoin="round"/>



<path d="M381.40,298.29 L417.60,278.16 L453.80,279.35" stroke="#000" stroke-width="1.35" fill="none" stroke-linejoin="round"/>



<path d="M381.40,309.54 L417.60,270.47 L453.80,274.02" stroke="#000" stroke-width="1.35" fill="none" stroke-linejoin="round"/>
<polygon points="381.40,306.84 384.10,309.54 381.40,312.24 378.70,309.54" fill="#000"/>
<polygon points="417.60,267.77 420.30,270.47 417.60,273.17 414.90,270.47" fill="#000"/>
<polygon points="453.80,271.32 456.50,274.02 453.80,276.72 451.10,274.02" fill="#000"/>
<path d="M381.40,313.09 L417.60,311.32 L453.80,314.28" stroke="#000" stroke-width="1.35" fill="none" stroke-linejoin="round"/>
<circle cx="381.40" cy="313.09" r="2.40" fill="#000"/>
<circle cx="417.60" cy="311.32" r="2.40" fill="#000"/>
<circle cx="453.80" cy="314.28" r="2.40" fill="#000"/>
<path d="M381.40,325.52 L417.60,324.93 L453.80,326.71" stroke="#000" stroke-width="1.35" fill="none" stroke-linejoin="round"/>
<rect x="378.90" y="323.02" width="5.00" height="5.00" fill="#000"/>
<rect x="415.10" y="322.43" width="5.00" height="5.00" fill="#000"/>
<rect x="451.30" y="324.21" width="5.00" height="5.00" fill="#000"/>
<path d="M381.40,316.64 L417.60,309.54 L453.80,321.38" stroke="#000" stroke-width="1.35" fill="none" stroke-linejoin="round"/>
<polygon points="381.40,313.84 384.20,318.74 378.60,318.74" fill="#000"/>
<polygon points="417.60,306.74 420.40,311.64 414.80,311.64" fill="#000"/>
<polygon points="453.80,318.58 456.60,323.48 451.00,323.48" fill="#000"/>
<path d="M381.40,315.46 L417.60,302.44 L453.80,318.42" stroke="#000" stroke-width="1.35" fill="none" stroke-linejoin="round"/>
<path d="M379.40,315.46H383.40M381.40,313.46V317.46" stroke="#000" stroke-width="1"/>
<path d="M415.60,302.44H419.60M417.60,300.44V304.44" stroke="#000" stroke-width="1"/>
<path d="M451.80,318.42H455.80M453.80,316.42V320.42" stroke="#000" stroke-width="1"/>
<path d="M381.40,315.46 L417.60,297.11 L453.80,301.25" stroke="#000" stroke-width="1.35" fill="none" stroke-linejoin="round"/>



<path d="M381.40,314.28 L417.60,304.80 L453.80,306.58" stroke="#000" stroke-width="1.35" fill="none" stroke-linejoin="round"/>



<path d="M381.40,316.64 L417.60,306.58 L453.80,309.54" stroke="#000" stroke-width="1.35" fill="none" stroke-linejoin="round"/>



<path d="M380.50,255.50H452.50M380.50,253.20V257.80M452.50,253.20V257.80" stroke="#606060" stroke-width="1.1" fill="none"/><polygon points="416.50,249.80 417.28,251.13 418.78,251.46 417.76,252.61 417.91,254.14 416.50,253.52 415.09,254.14 415.24,252.61 414.22,251.46 415.72,251.13" fill="#000"/>
<path d="M380.50,262.00H417.50M380.50,259.70V264.30M417.50,259.70V264.30" stroke="#606060" stroke-width="1.1" fill="none"/><polygon points="396.80,256.30 397.58,257.63 399.08,257.96 398.06,259.11 398.21,260.64 396.80,260.02 395.39,260.64 395.54,259.11 394.52,257.96 396.02,257.63" fill="#000"/><polygon points="401.20,256.30 401.98,257.63 403.48,257.96 402.46,259.11 402.61,260.64 401.20,260.02 399.79,260.64 399.94,259.11 398.92,257.96 400.42,257.63" fill="#000"/>
<text transform="translate(337.60,298.70) rotate(-90)" font-size="7.5" font-weight="bold" text-anchor="middle" fill="#000">% of IL-12<tspan font-size="4.8" dy="-3" fill="#444">low</tspan><tspan dy="3"> DC</tspan></text>
<text x="2" y="11" font-size="14" font-weight="bold" fill="#000">A</text>
<text x="159.6" y="11" font-size="14" font-weight="bold" fill="#000">B</text>
<text x="316" y="11" font-size="14" font-weight="bold" fill="#000">C</text>
<text x="66.23" y="341.4" font-size="7.2" text-anchor="middle" fill="#262626">1 : 0</text>
<text x="102.50" y="341.4" font-size="7.2" text-anchor="middle" fill="#262626">1 : 4NS</text>
<text x="138.77" y="341.4" font-size="7.2" text-anchor="middle" fill="#262626">1 : 4S</text>
<text x="224.12" y="341.4" font-size="7.2" text-anchor="middle" fill="#262626">1 : 0</text>
<text x="260.15" y="341.4" font-size="7.2" text-anchor="middle" fill="#262626">1 : 4</text>
<text x="296.18" y="341.4" font-size="7.2" text-anchor="middle" fill="#262626">1 : 4</text>
<text x="381.40" y="341.4" font-size="7.2" text-anchor="middle" fill="#262626">1 : 0</text>
<text x="417.60" y="341.4" font-size="7.2" text-anchor="middle" fill="#262626">1 : 4</text>
<text x="453.80" y="341.4" font-size="7.2" text-anchor="middle" fill="#262626">1 : 4</text>
<text x="211.80" y="353.9" font-size="6.6" font-weight="bold" text-anchor="end" fill="#000">SLE B cells</text>
<text x="211.80" y="366.0" font-size="6.6" font-weight="bold" text-anchor="end" fill="#000">Ctrl B cells</text>
<path d="M222.52,351.60H225.72" stroke="#222" stroke-width="1.3"/>
<path d="M257.55,351.60H262.75M260.15,349.10V354.10" stroke="#111" stroke-width="1.3"/>
<path d="M294.58,351.60H297.78" stroke="#222" stroke-width="1.3"/>
<path d="M222.52,363.40H225.72" stroke="#222" stroke-width="1.3"/>
<path d="M258.55,363.40H261.75" stroke="#222" stroke-width="1.3"/>
<path d="M293.58,363.40H298.78M296.18,360.90V365.90" stroke="#111" stroke-width="1.3"/>
<text x="369.30" y="353.9" font-size="6.6" font-weight="bold" text-anchor="end" fill="#000">RA B cells</text>
<text x="369.30" y="366.0" font-size="6.6" font-weight="bold" text-anchor="end" fill="#000">Ctrl B cells</text>
<path d="M379.80,351.60H383.00" stroke="#222" stroke-width="1.3"/>
<path d="M415.00,351.60H420.20M417.60,349.10V354.10" stroke="#111" stroke-width="1.3"/>
<path d="M452.20,351.60H455.40" stroke="#222" stroke-width="1.3"/>
<path d="M379.80,363.40H383.00" stroke="#222" stroke-width="1.3"/>
<path d="M416.00,363.40H419.20" stroke="#222" stroke-width="1.3"/>
<path d="M451.20,363.40H456.40M453.80,360.90V365.90" stroke="#111" stroke-width="1.3"/>
<path d="M474.4,131.20H489.2" stroke="#000" stroke-width="1.6"/>
<polygon points="481.80,130.28 483.01,131.50 481.80,132.72 480.59,131.50" fill="#000"/>
<text x="490.7" y="133.70" font-size="6.4" textLength="23.0" lengthAdjust="spacingAndGlyphs" fill="#262626">sample 1</text>
<path d="M474.4,142.28H489.2" stroke="#000" stroke-width="1.6"/>
<circle cx="481.80" cy="142.58" r="1.63" fill="#000"/>
<text x="490.7" y="144.78" font-size="6.4" textLength="23.0" lengthAdjust="spacingAndGlyphs" fill="#262626">sample 2</text>
<path d="M474.4,153.36H489.2" stroke="#000" stroke-width="1.6"/>
<polygon points="481.80,152.31 483.15,153.66 481.80,155.01 480.45,153.66" fill="#000"/>
<text x="490.7" y="155.86" font-size="6.4" textLength="23.0" lengthAdjust="spacingAndGlyphs" fill="#262626">sample 3</text>
<path d="M474.4,164.44H489.2" stroke="#000" stroke-width="1.6"/>
<text x="490.7" y="166.94" font-size="6.4" textLength="23.0" lengthAdjust="spacingAndGlyphs" fill="#262626">sample 4</text>
<path d="M474.4,175.52H489.2" stroke="#000" stroke-width="1.6"/>
<polygon points="481.80,174.88 482.75,175.82 481.80,176.76 480.86,175.82" fill="#000"/>
<text x="490.7" y="178.02" font-size="6.4" textLength="23.0" lengthAdjust="spacingAndGlyphs" fill="#262626">sample 5</text>
<path d="M474.4,186.60H489.2" stroke="#000" stroke-width="1.6"/>
<polygon points="481.80,185.23 483.47,186.90 481.80,188.57 480.13,186.90" fill="#000"/>
<text x="490.7" y="189.10" font-size="6.4" textLength="23.0" lengthAdjust="spacingAndGlyphs" fill="#262626">sample 6</text>
<path d="M474.4,197.68H489.2" stroke="#000" stroke-width="1.6"/>
<polygon points="481.80,197.04 482.75,197.98 481.80,198.93 480.86,197.98" fill="#000"/>
<text x="490.7" y="200.18" font-size="6.4" textLength="23.0" lengthAdjust="spacingAndGlyphs" fill="#262626">sample 7</text>
<path d="M474.4,208.76H489.2" stroke="#000" stroke-width="1.6"/>
<text x="490.7" y="211.26" font-size="6.4" textLength="23.0" lengthAdjust="spacingAndGlyphs" fill="#262626">sample 8</text>
<path d="M474.4,219.84H489.2" stroke="#000" stroke-width="1.6"/>
<text x="490.7" y="222.34" font-size="6.4" textLength="23.0" lengthAdjust="spacingAndGlyphs" fill="#262626">sample 9</text>
<path d="M474.4,230.92H489.2" stroke="#000" stroke-width="1.6"/>
<text x="490.7" y="233.42" font-size="6.4" textLength="26.3" lengthAdjust="spacingAndGlyphs" fill="#262626">sample 10</text>
</svg>
</body></html>
